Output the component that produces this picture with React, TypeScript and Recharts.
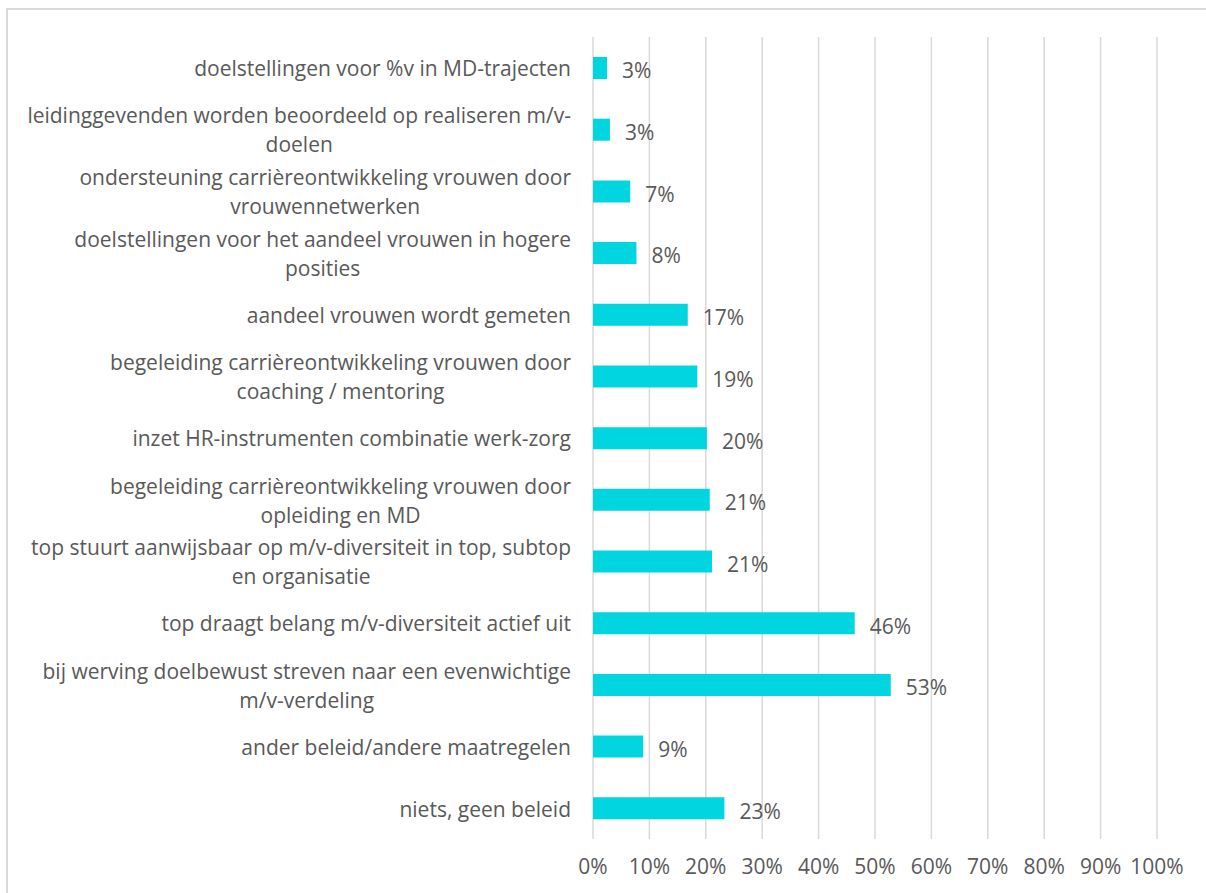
import React from 'react';
import { BarChart, Bar, XAxis, YAxis, CartesianGrid, LabelList } from 'recharts';

const categories = [
  'doelstellingen voor %v in MD-trajecten',
  'leidinggevenden worden beoordeeld op realiseren m/v-\ndoelen',
  'ondersteuning carrièreontwikkeling vrouwen door\nvrouwennetwerken',
  'doelstellingen voor het aandeel vrouwen in hogere\nposities',
  'aandeel vrouwen wordt gemeten',
  'begeleiding carrièreontwikkeling vrouwen door\ncoaching / mentoring',
  'inzet HR-instrumenten combinatie werk-zorg',
  'begeleiding carrièreontwikkeling vrouwen door\nopleiding en MD',
  'top stuurt aanwijsbaar op m/v-diversiteit in top, subtop\nen organisatie',
  'top draagt belang m/v-diversiteit actief uit',
  'bij werving doelbewust streven naar een evenwichtige\nm/v-verdeling',
  'ander beleid/andere maatregelen',
  'niets, geen beleid',
];

const percentages = [2.5, 3, 6.6, 7.7, 16.8, 18.5, 20.2, 20.7, 21.1, 46.4, 52.8, 8.9, 23.3];

const xTicks = [0, 10, 20, 30, 40, 50, 60, 70, 80, 90, 100];

const data = categories.map((name, i) => ({ name, value: percentages[i] }));

const FONT = '"Open Sans", sans-serif';
const FONT_SIZE = 21;
const TEXT = '#595959';

let ctx: CanvasRenderingContext2D | null = null;
const measure = (s: string) => {
  if (!ctx) {
    ctx = document.createElement('canvas').getContext('2d');
  }
  if (!ctx) return s.length * FONT_SIZE * 0.5;
  ctx.font = `${FONT_SIZE}px "Open Sans"`;
  return ctx.measureText(s).width;
};

const CategoryTick = (props: any) => {
  const { x, y, payload } = props;
  const lines: string[] = String(payload.value).split('\n');
  const right = x - 14;
  const lineH = 29;
  const maxW = Math.max(...lines.map(measure));
  const cx = right - maxW / 2;
  const startY = y + 1 - ((lines.length - 1) * lineH) / 2;
  return (
    <text
      fill={TEXT}
      fontSize={FONT_SIZE}
      fontFamily={FONT}
      textAnchor={lines.length > 1 ? 'middle' : 'end'}
    >
      {lines.map((l, i) => (
        <tspan key={i} x={lines.length > 1 ? cx : right} y={startY + i * lineH} dy="0.35em">
          {l}
        </tspan>
      ))}
    </text>
  );
};

const ValueLabel = (props: any) => {
  const { x, y, width, height, value } = props;
  return (
    <text
      x={x + width + 15}
      y={y + height / 2 + 3}
      dy="0.35em"
      fill={TEXT}
      fontSize={FONT_SIZE}
      fontFamily={FONT}
    >
      {`${Math.round(Number(value))}%`}
    </text>
  );
};

const App: React.FC = () => {
  return (
    <div style={{ position: 'absolute', left: 0, top: 0, width: 1206, height: 893, overflow: 'hidden', background: '#fff' }}>
      <div
        style={{
          position: 'absolute',
          left: 6,
          top: 8,
          width: 1220,
          height: 900,
          border: '2px solid #d9d9d9',
        }}
      />
      <div style={{ position: 'absolute', left: 0, top: 0 }}>
        <BarChart
          width={1206}
          height={893}
          data={data}
          layout="vertical"
          margin={{ top: 37, right: 49, bottom: 0, left: 0 }}
        >
          <CartesianGrid horizontal={false} stroke="#d9d9d9" strokeWidth={1.5} />
          <XAxis
            type="number"
            domain={[0, 100]}
            ticks={xTicks}
            interval={0}
            axisLine={false}
            tickLine={false}
            height={54}
            tickMargin={14}
            tickFormatter={(v: number) => `${v}%`}
            tick={{ fill: TEXT, fontSize: FONT_SIZE, fontFamily: FONT }}
          />
          <YAxis
            type="category"
            dataKey="name"
            width={593}
            axisLine={false}
            tickLine={false}
            interval={0}
            tick={<CategoryTick />}
          />
          <Bar dataKey="value" fill="#00d5e0" barSize={22} isAnimationActive={false}>
            <LabelList dataKey="value" content={<ValueLabel />} />
          </Bar>
        </BarChart>
      </div>
    </div>
  );
};

export default App;
